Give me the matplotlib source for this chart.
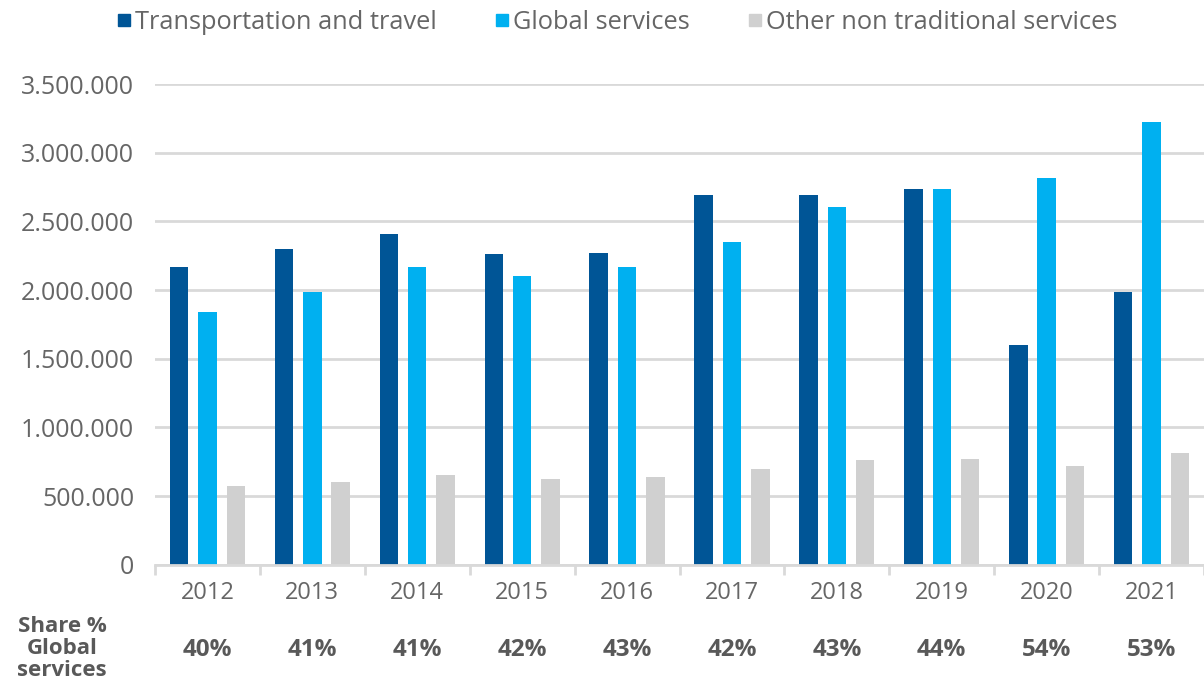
import matplotlib
matplotlib.use("Agg")
import matplotlib.pyplot as plt
import matplotlib.transforms as mtransforms
from matplotlib.lines import Line2D
import numpy as np

years = ["2012", "2013", "2014", "2015", "2016", "2017", "2018", "2019", "2020", "2021"]
transport_travel = [2170000, 2296000, 2405000, 2261000, 2266000, 2690000, 2690000, 2739000, 1598000, 1983000]
global_services = [1843000, 1983000, 2167000, 2102000, 2165000, 2347000, 2605000, 2739000, 2819000, 3221000]
other_services = [575000, 602000, 655000, 621000, 640000, 697000, 759000, 772000, 721000, 815000]
share_labels = ["40%", "41%", "41%", "42%", "43%", "42%", "43%", "44%", "54%", "53%"]
share_title = ["Share %", "Global", "services"]
series_names = ["Transportation and travel", "Global services", "Other non traditional services"]

colors = ["#005596", "#00B0F0", "#D0D0D0"]
text_color = "#595959"
light_text = "#666666"
grid_color = "#D9D9D9"

plt.rcParams["font.family"] = ["Open Sans", "DejaVu Sans"]

W, H = 1204, 683
fig = plt.figure(figsize=(W / 100, H / 100), dpi=100)
ax = fig.add_axes([155 / W, 1 - 564.7 / H, (W - 155) / W, (564.7 - 84) / H])

x = np.arange(len(years))
width = 0.176
offset = 0.27
for i, (vals, col) in enumerate(zip([transport_travel, global_services, other_services], colors)):
    ax.bar(x + (i - 1) * offset, vals, width=width, color=col, zorder=3, linewidth=0)

ax.set_xlim(-0.5, len(years) - 0.5)
ax.set_ylim(0, 3500000)
yticks = np.arange(0, 3500001, 500000)
ax.set_yticks(yticks)
ax.set_yticklabels([f"{int(v):,}".replace(",", ".") for v in yticks])
ax.yaxis.grid(True, color=grid_color, linewidth=2, zorder=0)
ax.set_axisbelow(True)

for side in ["left", "right", "top"]:
    ax.spines[side].set_visible(False)
ax.spines["bottom"].set_color(grid_color)
ax.spines["bottom"].set_linewidth(2)
ax.spines["bottom"].set_zorder(4)

# category labels centered, tick marks between categories
ax.set_xticks(x)
ax.set_xticklabels(years)
ax.tick_params(axis="x", length=0, pad=12, labelsize=17, labelcolor=light_text)
ax.set_xticks(np.arange(-0.5, len(years)), minor=True)
ax.tick_params(axis="x", which="minor", length=7, width=2, color=grid_color)
ax.tick_params(axis="y", length=0, pad=15, labelsize=18, labelcolor=light_text)

# share row beneath the axis
share_tf = mtransforms.blended_transform_factory(ax.transData, fig.transFigure)
for xi, s in zip(x, share_labels):
    ax.text(xi, 1 - 650 / H, s, transform=share_tf, ha="center", va="center",
            fontsize=17.5, fontweight="bold", color=text_color)
for line, ypx in zip(share_title, [626, 649, 671]):
    fig.text(62 / W, 1 - ypx / H, line, ha="center", va="center",
             fontsize=16, fontweight="bold", color=text_color)

handles = [Line2D([0], [0], marker="s", linestyle="none", markersize=9, color=c) for c in colors]
leg = fig.legend(handles, series_names, loc="upper center", bbox_to_anchor=(613 / W, 1.0),
                 ncol=3, frameon=False, fontsize=18.3, handletextpad=-0.2, columnspacing=2.0,
                 handlelength=1.2, borderaxespad=0.0)
for t in leg.get_texts():
    t.set_color(light_text)

fig.savefig("out.png", dpi=100)
